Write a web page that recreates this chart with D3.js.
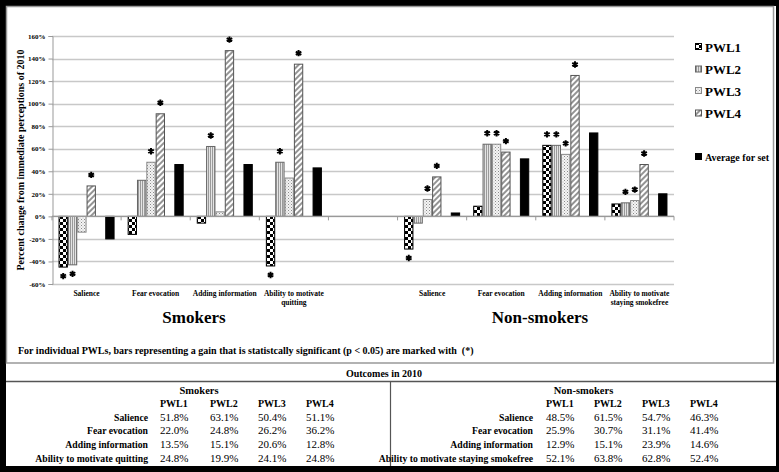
<!DOCTYPE html>
<html><head><meta charset="utf-8">
<script src="https://cdn.jsdelivr.net/npm/d3@7"></script>
<style>body{margin:0;background:#000}svg{display:block}</style>
</head><body>
<script>
// ---------- DATA ----------
const series = ["PWL1", "PWL2", "PWL3", "PWL4"];
const smokerCats = ["Salience", "Fear evocation", "Adding information", "Ability to motivate quitting"];
const nonSmokerCats = ["Salience", "Fear evocation", "Adding information", "Ability to motivate staying smokefree"];
const smokersPWL1 = [-45, -16, -6, -44];
const smokersPWL2 = [-43, 32, 62, 48];
const smokersPWL3 = [-14, 48, 4, 34];
const smokersPWL4 = [27, 91, 147, 135];
const smokersAvg  = [-20, 46, 46, 43];
const nonPWL1 = [-29, 9, 63, 11];
const nonPWL2 = [-6, 64, 63, 12];
const nonPWL3 = [15, 64, 55, 14];
const nonPWL4 = [35, 57, 125, 46];
const nonAvg  = [3, 51, 74, 20];
const smokersSig = [[1,0,0,1],[1,0,1,1],[0,1,0,0],[1,1,1,1]];
const nonSig     = [[1,0,1,0],[0,1,1,1],[1,1,1,1],[1,1,1,1]];
const yTicks = [-60, -40, -20, 0, 20, 40, 60, 80, 100, 120, 140, 160];
const tableRowsSmokers = ["Salience", "Fear evocation", "Adding information", "Ability to motivate quitting"];
const tableRowsNon = ["Salience", "Fear evocation", "Adding information", "Ability to motivate staying smokefree"];
const tableSmokers = [["51.8%","63.1%","50.4%","51.1%"],["22.0%","24.8%","26.2%","36.2%"],["13.5%","15.1%","20.6%","12.8%"],["24.8%","19.9%","24.1%","24.8%"]];
const tableNon = [["48.5%","61.5%","54.7%","46.3%"],["25.9%","30.7%","31.1%","41.4%"],["12.9%","15.1%","23.9%","14.6%"],["52.1%","63.8%","62.8%","52.4%"]];

// ---------- BUILD ----------
const W = 779, H = 472;
const serif = "'Liberation Serif','Times New Roman',serif";
const svg = d3.select("body").append("svg").attr("width", W).attr("height", H);
svg.append("rect").attr("width", W).attr("height", H).attr("fill", "#000");
svg.append("rect").attr("x", 6).attr("y", 6).attr("width", 770).attr("height", 460).attr("fill", "#fff");
svg.append("rect").attr("x", 6.5).attr("y", 6.5).attr("width", 767).attr("height", 356.5)
  .attr("fill", "none").attr("stroke", "#999").attr("stroke-width", 1.5);

const defs = svg.append("defs");
// checker
const p1 = defs.append("pattern").attr("id", "pat1").attr("patternUnits", "userSpaceOnUse").attr("width", 6).attr("height", 6);
p1.append("rect").attr("width", 6).attr("height", 6).attr("fill", "#fff");
p1.append("rect").attr("width", 3).attr("height", 3).attr("fill", "#000");
p1.append("rect").attr("x", 3).attr("y", 3).attr("width", 3).attr("height", 3).attr("fill", "#000");
// vertical stripes
const p2 = defs.append("pattern").attr("id", "pat2").attr("patternUnits", "userSpaceOnUse").attr("width", 2).attr("height", 2);
p2.append("rect").attr("width", 2).attr("height", 2).attr("fill", "#e4e4e4");
p2.append("rect").attr("width", 1).attr("height", 2).attr("fill", "#9a9a9a");
// dots
const p3 = defs.append("pattern").attr("id", "pat3").attr("patternUnits", "userSpaceOnUse").attr("width", 3).attr("height", 3);
p3.append("rect").attr("width", 3).attr("height", 3).attr("fill", "#f4f4f4");
p3.append("rect").attr("width", 1).attr("height", 1).attr("fill", "#8a8a8a");
p3.append("rect").attr("x", 1.5).attr("y", 1.5).attr("width", 1).attr("height", 1).attr("fill", "#b0b0b0");
// diagonal
const p4 = defs.append("pattern").attr("id", "pat4").attr("patternUnits", "userSpaceOnUse").attr("width", 4).attr("height", 4)
  .attr("patternTransform", "rotate(45)");
p4.append("rect").attr("width", 4).attr("height", 4).attr("fill", "#fff");
p4.append("line").attr("x1", 1).attr("y1", 0).attr("x2", 1).attr("y2", 4).attr("stroke", "#666").attr("stroke-width", 1.4);

const fills = {PWL1: "url(#pat1)", PWL2: "url(#pat2)", PWL3: "url(#pat3)", PWL4: "url(#pat4)", Average: "#000"};
const strokes = {PWL1: "#000", PWL2: "#666", PWL3: "#888", PWL4: "#555", Average: "#000"};

// scales
const slots = ["S0","S1","S2","S3","gap","N0","N1","N2","N3"];
const x = d3.scaleBand().domain(slots).range([52, 674]).padding(0);
const inner = d3.scaleBand().domain(["PWL1","PWL2","PWL3","PWL4","_","Average"]).range([0, x.bandwidth()]).paddingInner(0).paddingOuter(0.7);
const y = d3.scaleLinear().domain([-60, 160]).range([284, 36]);

// gridlines
svg.append("g").selectAll("line").data(yTicks).join("line")
  .attr("x1", 52).attr("x2", 674).attr("y1", d => Math.round(y(d)) + 0.5).attr("y2", d => Math.round(y(d)) + 0.5)
  .attr("stroke", "#c8c8c8").attr("stroke-width", 1.3);

// y axis
const yAxis = svg.append("g").attr("transform", "translate(52.5,0)")
  .call(d3.axisLeft(y).tickValues(yTicks).tickFormat(d => d + "%").tickSize(4).tickPadding(3));
yAxis.select(".domain").attr("stroke", "#999");
yAxis.selectAll(".tick line").attr("stroke", "#999");
yAxis.selectAll("text").attr("font-family", serif).attr("font-weight", "bold").attr("font-size", 7).attr("fill", "#000");

// data rows
const sets = [
  {prefix: "S", vals: {PWL1: smokersPWL1, PWL2: smokersPWL2, PWL3: smokersPWL3, PWL4: smokersPWL4, Average: smokersAvg}, sig: smokersSig, cats: smokerCats},
  {prefix: "N", vals: {PWL1: nonPWL1, PWL2: nonPWL2, PWL3: nonPWL3, PWL4: nonPWL4, Average: nonAvg}, sig: nonSig, cats: nonSmokerCats}
];
const bars = [], stars = [];
sets.forEach(s => {
  s.cats.forEach((c, i) => {
    ["PWL1","PWL2","PWL3","PWL4","Average"].forEach((k, si) => {
      const v = s.vals[k][i];
      bars.push({slot: s.prefix + i, key: k, v});
      if (si < 4 && s.sig[si][i]) stars.push({slot: s.prefix + i, key: k, v});
    });
  });
});
svg.append("g").selectAll("rect").data(bars).join("rect")
  .attr("x", d => x(d.slot) + inner(d.key) + 0.5)
  .attr("width", inner.bandwidth() - 1)
  .attr("y", d => Math.min(y(d.v), y(0)))
  .attr("height", d => Math.abs(y(d.v) - y(0)))
  .attr("fill", d => fills[d.key]).attr("stroke", d => strokes[d.key]).attr("stroke-width", 1);

// zero axis line + ticks
svg.append("line").attr("x1", 52).attr("x2", 674).attr("y1", y(0)).attr("y2", y(0)).attr("stroke", "#999").attr("stroke-width", 1.2);
svg.append("g").selectAll("line").data(slots.concat(["end"])).join("line")
  .attr("x1", d => d === "end" ? 674 : x(d)).attr("x2", d => d === "end" ? 674 : x(d))
  .attr("y1", y(0)).attr("y2", y(0) + 4).attr("stroke", "#999");

// stars
svg.append("g").selectAll("path").data(stars).join("path")
  .attr("d", d3.symbol(d3.symbolAsterisk, 28))
  .attr("transform", d => `translate(${x(d.slot) + inner(d.key) + inner.bandwidth() / 2},${d.v >= 0 ? y(d.v) - 11 : y(d.v) + 9})`)
  .attr("stroke", "#000").attr("stroke-width", 2).attr("fill", "#000");

// category labels
const catLabels = [];
sets.forEach(s => s.cats.forEach((c, i) => catLabels.push({slot: s.prefix + i, text: c})));
const splitLabel = t => t.startsWith("Ability to motivate") ? ["Ability to motivate", t.replace("Ability to motivate ", "")] : [t];
svg.append("g").selectAll("text").data(catLabels).join("text")
  .attr("x", d => x(d.slot) + x.bandwidth() / 2).attr("y", 296)
  .attr("text-anchor", "middle").attr("font-family", serif).attr("font-weight", "bold").attr("font-size", 7.5)
  .each(function(d) {
    splitLabel(d.text).forEach((ln, j) => d3.select(this).append("tspan").attr("x", x(d.slot) + x.bandwidth() / 2).attr("dy", j ? 9 : 0).text(ln));
  });

// group titles
svg.append("text").attr("x", 194).attr("y", 323).attr("text-anchor", "middle").attr("font-family", serif)
  .attr("font-weight", "bold").attr("font-size", 17).text("Smokers");
svg.append("text").attr("x", 540).attr("y", 323).attr("text-anchor", "middle").attr("font-family", serif)
  .attr("font-weight", "bold").attr("font-size", 17).text("Non-smokers");

// y title
svg.append("text").attr("transform", "translate(24,160) rotate(-90)").attr("text-anchor", "middle")
  .attr("font-family", serif).attr("font-weight", "bold").attr("font-size", 10)
  .text("Percent change from immediate perceptions of 2010");

// legend
const legendItems = [
  {key: "PWL1", y: 47, size: 13}, {key: "PWL2", y: 69.5, size: 13}, {key: "PWL3", y: 91, size: 13},
  {key: "PWL4", y: 113.5, size: 13}, {key: "Average", label: "Average for set", y: 157, size: 10}
];
const lg = svg.append("g").selectAll("g").data(legendItems).join("g");
lg.append("rect").attr("x", 695.5).attr("y", d => d.y - 3.5).attr("width", 6).attr("height", 6)
  .attr("fill", d => fills[d.key]).attr("stroke", d => strokes[d.key]);
lg.append("text").attr("x", 705).attr("y", d => d.y + d.size * 0.35).attr("font-family", serif)
  .attr("font-weight", "bold").attr("font-size", d => d.size).text(d => d.label || d.key);

// footnote
svg.append("text").attr("x", 18).attr("y", 353.5).attr("font-family", serif).attr("font-weight", "bold").attr("font-size", 10)
  .attr("xml:space", "preserve")
  .text("For individual PWLs, bars representing a gain that is statistcally significant (p < 0.05) are marked with  (*)");

// ---------- TABLE ----------
svg.append("line").attr("x1", 6).attr("x2", 776).attr("y1", 381.5).attr("y2", 381.5).attr("stroke", "#555").attr("stroke-width", 1.5);
svg.append("line").attr("x1", 390.5).attr("x2", 390.5).attr("y1", 382).attr("y2", 466).attr("stroke", "#555").attr("stroke-width", 1.2);
svg.append("text").attr("x", 384).attr("y", 377).attr("text-anchor", "middle").attr("font-family", serif)
  .attr("font-weight", "bold").attr("font-size", 10).text("Outcomes in 2010");

const rowY = [417.3, 430.7, 444.3, 458.3];
function drawTable(title, titleX, labelEnd, colX, rows, vals) {
  const g = svg.append("g").attr("font-family", serif);
  g.append("text").attr("x", titleX).attr("y", 393.5).attr("text-anchor", "middle").attr("font-weight", "bold").attr("font-size", 10.5).text(title);
  g.selectAll(".hdr").data(series).join("text").attr("x", (d, i) => colX[i]).attr("y", 407)
    .attr("font-weight", "bold").attr("font-size", 10).text(d => d);
  g.selectAll(".lab").data(rows).join("text").attr("x", labelEnd).attr("y", (d, i) => rowY[i] + 3.5)
    .attr("text-anchor", "end").attr("font-weight", "bold").attr("font-size", 9.7).text(d => d);
  vals.forEach((r, ri) => r.forEach((v, ci) => {
    g.append("text").attr("x", colX[ci]).attr("y", rowY[ri] + 3.5).attr("font-size", 11).text(v);
  }));
}
drawTable("Smokers", 199, 148, [160, 210, 258, 306], tableRowsSmokers, tableSmokers);
drawTable("Non-smokers", 583.5, 533, [546, 594, 642, 690], tableRowsNon, tableNon);
</script>
</body></html>
